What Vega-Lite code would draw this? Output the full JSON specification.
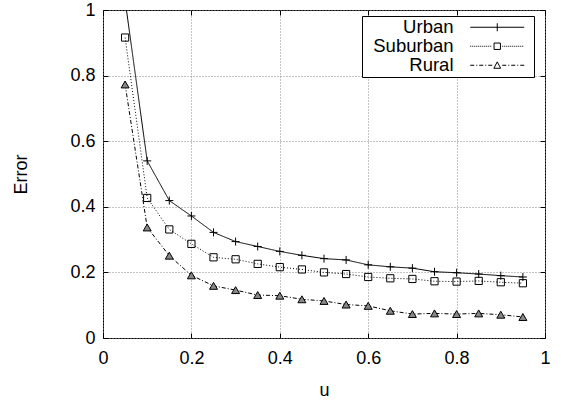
{
  "$schema": "https://vega.github.io/schema/vega-lite/v6.json",
  "width": 442,
  "height": 328,
  "autosize": {"type": "none"},
  "padding": {"left": 103, "top": 10, "right": 19, "bottom": 62},
  "background": "white",
  "config": {
    "font": "Liberation Sans",
    "view": {"stroke": "black", "strokeWidth": 1},
    "axis": {
      "labelFontSize": 18,
      "labelColor": "black",
      "labelFont": "Liberation Sans",
      "titleFont": "Liberation Sans",
      "titleFontSize": 18,
      "titleFontWeight": "normal",
      "titleColor": "black",
      "tickColor": "black",
      "tickWidth": 1,
      "domain": false,
      "labelFlush": false,
      "labelOverlap": false,
      "gridColor": "#888888",
      "gridDash": [1, 2],
      "gridWidth": 1,
      "gridOpacity": 1
    }
  },
  "data": {
    "values": [
      {"series": "Urban", "u": 0.05, "err": 1.03},
      {"series": "Urban", "u": 0.10, "err": 0.540},
      {"series": "Urban", "u": 0.15, "err": 0.419},
      {"series": "Urban", "u": 0.20, "err": 0.372},
      {"series": "Urban", "u": 0.25, "err": 0.322},
      {"series": "Urban", "u": 0.30, "err": 0.294},
      {"series": "Urban", "u": 0.35, "err": 0.279},
      {"series": "Urban", "u": 0.40, "err": 0.264},
      {"series": "Urban", "u": 0.45, "err": 0.252},
      {"series": "Urban", "u": 0.50, "err": 0.242},
      {"series": "Urban", "u": 0.55, "err": 0.238},
      {"series": "Urban", "u": 0.60, "err": 0.223},
      {"series": "Urban", "u": 0.65, "err": 0.217},
      {"series": "Urban", "u": 0.70, "err": 0.213},
      {"series": "Urban", "u": 0.75, "err": 0.202},
      {"series": "Urban", "u": 0.80, "err": 0.199},
      {"series": "Urban", "u": 0.85, "err": 0.195},
      {"series": "Urban", "u": 0.90, "err": 0.190},
      {"series": "Urban", "u": 0.95, "err": 0.186},
      {"series": "Suburban", "u": 0.05, "err": 0.916},
      {"series": "Suburban", "u": 0.10, "err": 0.427},
      {"series": "Suburban", "u": 0.15, "err": 0.331},
      {"series": "Suburban", "u": 0.20, "err": 0.287},
      {"series": "Suburban", "u": 0.25, "err": 0.246},
      {"series": "Suburban", "u": 0.30, "err": 0.240},
      {"series": "Suburban", "u": 0.35, "err": 0.226},
      {"series": "Suburban", "u": 0.40, "err": 0.216},
      {"series": "Suburban", "u": 0.45, "err": 0.209},
      {"series": "Suburban", "u": 0.50, "err": 0.200},
      {"series": "Suburban", "u": 0.55, "err": 0.195},
      {"series": "Suburban", "u": 0.60, "err": 0.186},
      {"series": "Suburban", "u": 0.65, "err": 0.182},
      {"series": "Suburban", "u": 0.70, "err": 0.180},
      {"series": "Suburban", "u": 0.75, "err": 0.173},
      {"series": "Suburban", "u": 0.80, "err": 0.172},
      {"series": "Suburban", "u": 0.85, "err": 0.174},
      {"series": "Suburban", "u": 0.90, "err": 0.170},
      {"series": "Suburban", "u": 0.95, "err": 0.167},
      {"series": "Rural", "u": 0.05, "err": 0.773},
      {"series": "Rural", "u": 0.10, "err": 0.337},
      {"series": "Rural", "u": 0.15, "err": 0.251},
      {"series": "Rural", "u": 0.20, "err": 0.191},
      {"series": "Rural", "u": 0.25, "err": 0.159},
      {"series": "Rural", "u": 0.30, "err": 0.146},
      {"series": "Rural", "u": 0.35, "err": 0.131},
      {"series": "Rural", "u": 0.40, "err": 0.129},
      {"series": "Rural", "u": 0.45, "err": 0.118},
      {"series": "Rural", "u": 0.50, "err": 0.113},
      {"series": "Rural", "u": 0.55, "err": 0.102},
      {"series": "Rural", "u": 0.60, "err": 0.098},
      {"series": "Rural", "u": 0.65, "err": 0.083},
      {"series": "Rural", "u": 0.70, "err": 0.073},
      {"series": "Rural", "u": 0.75, "err": 0.075},
      {"series": "Rural", "u": 0.80, "err": 0.073},
      {"series": "Rural", "u": 0.85, "err": 0.075},
      {"series": "Rural", "u": 0.90, "err": 0.071},
      {"series": "Rural", "u": 0.95, "err": 0.064}
    ]
  },
  "layer": [
    {
      "mark": {"type": "line", "clip": true, "color": "black"},
      "encoding": {
        "x": {
          "field": "u", "type": "quantitative",
          "scale": {"domain": [0, 1], "nice": false, "zero": false},
          "axis": {"orient": "bottom", "values": [0, 0.2, 0.4, 0.6, 0.8, 1], "format": "~g", "title": "u", "grid": true, "tickSize": -5, "labelPadding": 16, "titlePadding": 14}
        },
        "y": {
          "field": "err", "type": "quantitative",
          "scale": {"domain": [0, 1], "nice": false, "zero": false},
          "axis": {"orient": "left", "values": [0, 0.2, 0.4, 0.6, 0.8, 1], "format": "~g", "title": "Error", "grid": true, "tickSize": -5, "labelPadding": 13, "titlePadding": 39}
        },
        "detail": {"field": "series", "type": "nominal"},
        "strokeDash": {
          "field": "series", "type": "nominal",
          "scale": {"range": [[4, 2, 1, 2], [1, 2], [1, 0]]},
          "legend": null
        },
        "strokeWidth": {
          "field": "series", "type": "ordinal",
          "scale": {"range": [1, 1, 1.4]},
          "legend": null
        }
      }
    },
    {
      "mark": {"type": "point", "clip": true, "filled": false, "stroke": "black", "strokeWidth": 1, "opacity": 1, "size": 64},
      "encoding": {
        "x": {
          "field": "u", "type": "quantitative",
          "axis": {"orient": "top", "values": [0, 0.2, 0.4, 0.6, 0.8, 1], "labels": false, "grid": false, "tickSize": -5, "title": null}
        },
        "y": {
          "field": "err", "type": "quantitative",
          "axis": {"orient": "right", "values": [0, 0.2, 0.4, 0.6, 0.8, 1], "labels": false, "grid": false, "tickSize": -5, "title": null}
        },
        "fill": {"condition": {"test": "datum.series === 'Rural'", "value": "#888888"}, "value": "transparent"},
        "shape": {
          "field": "series", "type": "nominal",
          "scale": {"domain": ["Urban", "Suburban", "Rural"], "range": ["M-1,0H1M0,-1V1", "M-0.9,-0.9H0.9V0.9H-0.9Z", "triangle-up"]},
          "legend": null
        }
      }
    },
    {
      "transform": [{"filter": "datum.u > 5"}],
      "mark": {"type": "point", "filled": false, "stroke": "black", "strokeWidth": 1, "opacity": 1, "size": 64},
      "encoding": {
        "x": {"field": "u", "type": "quantitative", "axis": null},
        "y": {"field": "err", "type": "quantitative", "axis": null},
        "shape": {
          "field": "series", "type": "nominal",
          "scale": {
            "domain": ["Urban", "Suburban", "Rural"],
            "range": [
              "M-6.75,0H6.75M0,-1V1M8,0",
              "M-6.75,0h0.25m0.25,0h0.25m0.25,0h0.25m0.25,0h0.25m0.25,0h0.25m0.25,0h0.25m0.25,0h0.25m0.25,0h0.25m0.25,0h0.25m0.25,0h0.25m0.25,0h0.25m0.25,0M-0.8,-0.8H0.8V0.8H-0.8ZM1.25,0h0.25m0.25,0h0.25m0.25,0h0.25m0.25,0h0.25m0.25,0h0.25m0.25,0h0.25m0.25,0h0.25m0.25,0h0.25m0.25,0h0.25m0.25,0h0.25m0.25,0h0.25m0.25,0M8,0",
              "M-6.75,0h1m0.5,0h0.25m0.5,0h1m0.5,0h0.25m0.5,0h1M0,-0.85L-0.85,0.75H0.85ZM1.25,0h1m0.5,0h0.25m0.5,0h1m0.5,0h0.25m0.5,0h1M8,0"
            ]
          },
          "legend": {
            "title": null,
            "orient": "none",
            "legendX": 259,
            "legendY": 6,
            "labelAlign": "right",
            "labelFontSize": 18.5,
            "labelFont": "Liberation Sans",
            "labelColor": "black",
            "labelOffset": -53,
            "symbolOffset": 124,
            "rowPadding": 0,
            "padding": 2,
            "strokeColor": "black",
            "fillColor": "white",
            "symbolSize": 64,
            "symbolStrokeColor": "black",
            "symbolFillColor": "transparent",
            "symbolStrokeWidth": 1,
            "symbolOpacity": 1
          }
        }
      }
    }
  ],
  "resolve": {"scale": {"shape": "independent"}, "axis": {"x": "independent", "y": "independent"}}
}
